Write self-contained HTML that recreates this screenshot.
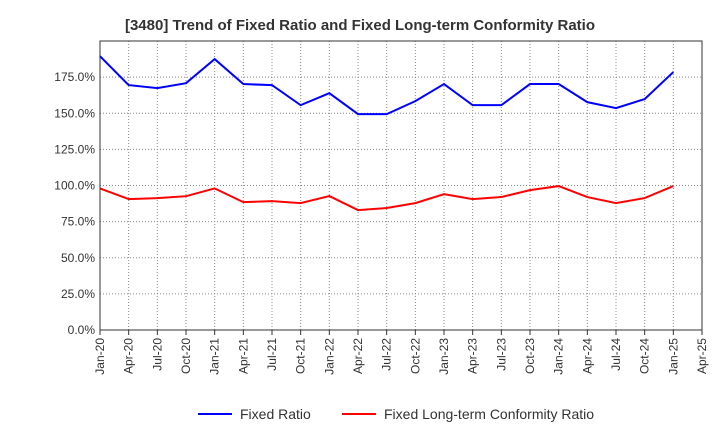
<!DOCTYPE html>
<html><head><meta charset="utf-8">
<style>
body{margin:0;background:#fff;font-family:"Liberation Sans",sans-serif;}
svg{display:block}
</style></head>
<body>
<svg id="chart" width="720" height="440">
<text x="360" y="30" text-anchor="middle" font-size="15" font-weight="bold" fill="#333">[3480]  Trend of Fixed Ratio and Fixed Long-term Conformity Ratio</text>
<g id="grid"></g><g id="axes"></g><g id="series"></g>
<g>
<line x1="198" y1="414" x2="232" y2="414" stroke="#0000ff" stroke-width="2"/>
<text x="240" y="419" font-size="14" fill="#333">Fixed Ratio</text>
<line x1="342" y1="414" x2="376" y2="414" stroke="#ff0000" stroke-width="2"/>
<text x="384" y="419" font-size="14" fill="#333">Fixed Long-term Conformity Ratio</text>
</g>
</svg>
<script>
const xLabels=["Jan-20","Apr-20","Jul-20","Oct-20","Jan-21","Apr-21","Jul-21","Oct-21","Jan-22","Apr-22","Jul-22","Oct-22","Jan-23","Apr-23","Jul-23","Oct-23","Jan-24","Apr-24","Jul-24","Oct-24","Jan-25","Apr-25"];
const yTicks=[0,25,50,75,100,125,150,175];
const fixedRatio=[189.5,169.5,167.4,170.8,187.5,170.2,169.5,155.6,163.9,149.4,149.4,158.4,170.2,155.6,155.6,170.2,170.2,157.7,153.6,159.8,178.5];
const conformityRatio=[98,90.6,91.3,92.6,98,88.5,89.2,87.8,92.7,83,84.4,87.8,94,90.6,92,96.8,99.6,92,87.8,91.3,99.6];
const L=100,R=702,T=41,B=330,YMAX=200;
const xs=i=>L+i*(R-L)/(xLabels.length-1);
const ys=v=>B-v/YMAX*(B-T);
const NS="http://www.w3.org/2000/svg";
function mk(tag,attrs,parent){const e=document.createElementNS(NS,tag);for(const k in attrs)e.setAttribute(k,attrs[k]);parent.appendChild(e);return e;}
const grid=document.getElementById('grid'),axes=document.getElementById('axes'),series=document.getElementById('series');
yTicks.forEach(v=>{
 if(v>0){const g=mk('line',{x1:L,x2:R,y1:ys(v),y2:ys(v),stroke:'#888','stroke-dasharray':'1,2','stroke-width':1},grid);
 
 }
 const t=mk('text',{x:L-5,y:ys(v)+4,'text-anchor':'end','font-size':12,fill:'#333'},axes);
 t.textContent=v.toFixed(1)+'%';
 
 
});
xLabels.forEach((lab,i)=>{
 const x=xs(i);
 if(i>0&&i<xLabels.length-1){const g=mk('line',{x1:x,x2:x,y1:T,y2:B,stroke:'#888','stroke-dasharray':'1,2','stroke-width':1},grid);
 
 }
 mk('line',{x1:x,x2:x,y1:B,y2:B+5,stroke:'#333'},axes);
 const t=mk('text',{x:x+4,y:B+8,'text-anchor':'end','font-size':12,fill:'#333',transform:`rotate(-90 ${x+4} ${B+8})`},axes);
 t.textContent=lab;
 
 
});
const frame=mk('rect',{x:L,y:T,width:R-L,height:B-T,fill:'none',stroke:'#333'},axes);


function line(d,c,name){
 const p=mk('polyline',{points:d.map((v,i)=>xs(i)+','+ys(v)).join(' '),fill:'none',stroke:c,'stroke-width':2},series);
 
 
}
line(fixedRatio,'#0000ff','fixed-ratio-line');
line(conformityRatio,'#ff0000','conformity-ratio-line');
</script>
</body></html>
